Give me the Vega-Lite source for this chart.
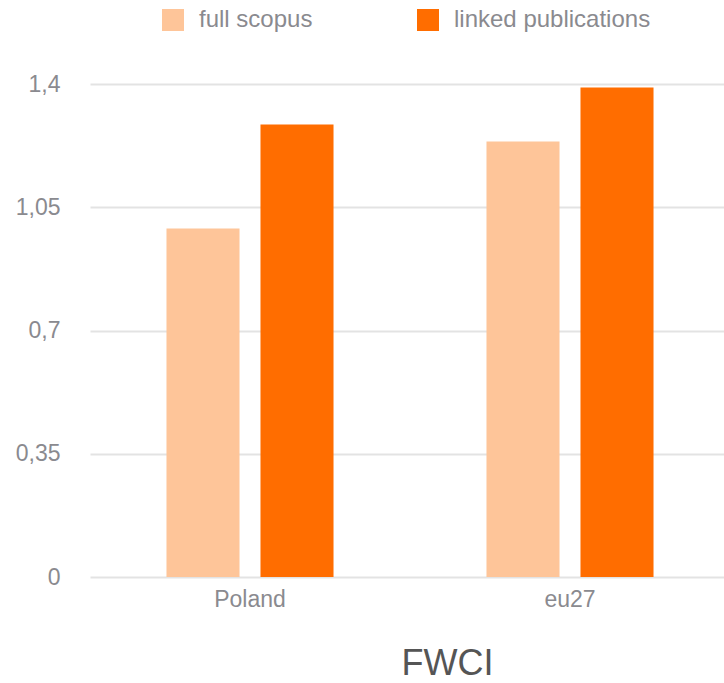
{
  "$schema": "https://vega.github.io/schema/vega-lite/v6.json",
  "autosize": {"type": "none"},
  "width": 635,
  "height": 493,
  "padding": {"left": 89, "top": 84, "right": 0, "bottom": 106},
  "background": "white",
  "config": {
    "view": {"stroke": null},
    "font": "Liberation Sans"
  },
  "data": {
    "values": [
      {"region": "Poland", "series": "full scopus", "fwci": 0.99},
      {"region": "Poland", "series": "linked publications", "fwci": 1.285},
      {"region": "eu27", "series": "full scopus", "fwci": 1.237},
      {"region": "eu27", "series": "linked publications", "fwci": 1.39}
    ]
  },
  "mark": {"type": "bar"},
  "encoding": {
    "x": {
      "field": "region",
      "type": "nominal",
      "sort": ["Poland", "eu27"],
      "scale": {"paddingInner": 0.478, "paddingOuter": 0.239, "range": [1, 641]},
      "axis": {
        "title": "FWCI",
        "labelAngle": 0,
        "labelFontSize": 23,
        "labelColor": "#8a8a8f",
        "labelPadding": 11,
        "ticks": false,
        "domain": false,
        "titleFontSize": 36,
        "titleFontWeight": "normal",
        "titleColor": "#555555",
        "titleX": 358,
        "titleY": 97,
        "titleAlign": "center",
        "titleBaseline": "alphabetic"
      }
    },
    "xOffset": {
      "field": "series",
      "type": "nominal",
      "sort": ["full scopus", "linked publications"],
      "scale": {"paddingInner": 0.223, "paddingOuter": 0}
    },
    "y": {
      "field": "fwci",
      "type": "quantitative",
      "scale": {"domain": [0, 1.4], "nice": false},
      "axis": {
        "title": null,
        "values": [0, 0.35, 0.7, 1.05, 1.4],
        "labelExpr": "replace(format(datum.value, ''), '.', ',')",
        "labelFontSize": 23,
        "labelColor": "#8a8a8f",
        "labelPadding": 29,
        "ticks": false,
        "domain": false,
        "gridColor": "#e3e3e3",
        "gridWidth": 2
      }
    },
    "color": {
      "field": "series",
      "type": "nominal",
      "sort": ["full scopus", "linked publications"],
      "scale": {
        "domain": ["full scopus", "linked publications"],
        "range": ["#fec599", "#ff6d00"]
      },
      "legend": {
        "title": null,
        "orient": "none",
        "legendX": 72,
        "legendY": -76,
        "direction": "horizontal",
        "symbolType": "square",
        "symbolSize": 484,
        "symbolStrokeWidth": 0,
        "labelFontSize": 24,
        "labelColor": "#8a8a8f",
        "labelOffset": 14,
        "columnPadding": 103,
        "labelLimit": 400
      }
    }
  }
}
